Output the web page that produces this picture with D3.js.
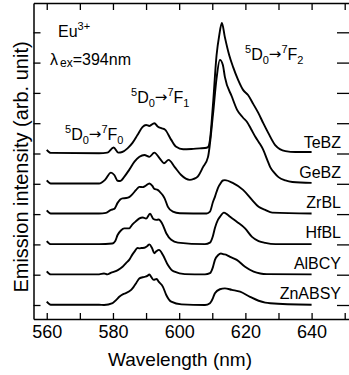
<!DOCTYPE html>
<html>
<head>
<meta charset="utf-8">
<script src="https://cdn.jsdelivr.net/npm/d3@7"></script>
<style>
  body { margin: 0; background: #fff; }
  svg { display: block; font-family: "Liberation Sans", Arial, Helvetica, sans-serif; }
</style>
</head>
<body>
<div id="chart"></div>
<script>
// samples, offsets (in y-tick units) and labels
const sampleNames = ["TeBZ", "GeBZ", "ZrBL", "HfBL", "AlBCY", "ZnABSY"];
const sampleOffsets = [5, 4, 3, 2, 1, 0];

// [wavelength nm, intensity above own baseline]
const teBZ = [[560,0.12],[561.2,0.02],[575.8,0.01],[578.3,0.03],[580.2,0.2],[581.6,0.03],[582.8,0.05],[584.4,0.17],[585.9,0.35],[587.4,0.61],[588.9,0.87],[590,0.94],[591,0.91],[592.5,1.0],[593.6,0.88],[594.8,0.83],[595.8,0.78],[597.6,0.45],[599.1,0.22],[601.2,0.14],[603.7,0.15],[606.2,0.17],[607.8,0.18],[608.7,0.21],[609.3,0.45],[610.2,1.6],[611.3,3.25],[612.1,3.9],[612.9,4.31],[613.8,3.84],[615.1,3.25],[616.3,2.85],[617.8,2.43],[619.3,2.1],[620.8,1.93],[622.4,1.63],[623.9,1.34],[625.4,1.0],[626.9,0.68],[629,0.28],[632.1,0.08],[635.1,0.05],[640,0.05]];
const geBZ = [[560,0.11],[561.2,0.01],[575.8,0.01],[577.6,0.13],[579.4,0.37],[580.4,0.29],[581.4,0.1],[582.2,0.09],[583.4,0.23],[584.9,0.46],[586.5,0.73],[588,0.89],[589.5,0.95],[591,0.89],[592.5,1.03],[594.1,0.84],[595.4,0.68],[596.8,0.79],[598.6,0.56],[600.6,0.29],[602,0.17],[603.2,0.13],[604.4,0.16],[605.6,0.24],[607.2,0.55],[608.7,0.88],[610.2,2.27],[611.3,3.49],[612.3,4.09],[613.2,3.92],[613.8,3.53],[615.9,2.88],[617.5,2.44],[619.3,2.18],[620.5,2.04],[621.7,1.81],[623,1.55],[624.2,1.35],[625.4,1.12],[626.6,0.79],[627.5,0.55],[628.7,0.37],[630,0.22],[632.1,0.11],[634.2,0.06],[640,0.03]];
const zrBL = [[560,0.12],[561.2,0.02],[575.8,0.02],[577.9,0.04],[579.4,0.14],[580.4,0.17],[581.4,0.37],[582.2,0.48],[582.9,0.52],[584,0.53],[584.9,0.56],[585.9,0.66],[587,0.8],[588,0.9],[588.9,0.89],[589.8,0.93],[591,1.01],[591.9,0.93],[592.5,0.83],[593.5,0.8],[594.1,0.74],[595,0.63],[595.6,0.52],[596.6,0.24],[598.1,0.08],[600.2,0.03],[608.3,0.02],[609.3,0.08],[610.2,0.4],[610.8,0.57],[611.7,0.86],[612.3,0.98],[613.2,1.11],[613.8,1.12],[616.3,1.02],[619.3,0.8],[622,0.47],[624,0.24],[626,0.14],[628.1,0.05],[640,0.02]];
const hfBL = [[560,0.11],[561.2,0.01],[575.8,0.01],[579.8,0.03],[580.7,0.11],[581.4,0.31],[582.4,0.46],[583.4,0.53],[584.9,0.53],[585.9,0.66],[587,0.77],[588,0.86],[589,0.89],[590,0.85],[591.2,1.01],[592.2,0.84],[593.1,0.81],[593.8,0.82],[594.8,0.7],[596.1,0.37],[597.6,0.15],[599.6,0.06],[607.8,0.01],[609.3,0.06],[610.2,0.28],[610.8,0.54],[611.7,0.81],[612.3,0.91],[613.5,1.05],[614.4,1.0],[615.4,0.91],[617.4,0.75],[619.9,0.53],[622,0.25],[624,0.11],[626,0.05],[629.1,0.01],[640,0.01]];
const alBCY = [[560,0.11],[561.2,0.01],[575.8,0.01],[577.3,0.04],[578.3,0.01],[579.5,0.07],[580.4,0.1],[581.6,0.16],[582.9,0.26],[584,0.39],[584.9,0.49],[585.9,0.67],[586.5,0.76],[587.4,0.88],[588,0.87],[588.6,0.88],[589.5,0.89],[590.4,0.95],[591,1.0],[591.8,0.88],[592.5,0.71],[593.1,0.77],[593.9,0.82],[595.1,0.65],[596.6,0.32],[597.6,0.17],[598.6,0.1],[601.7,0.02],[607.8,0.01],[609.3,0.05],[610.2,0.25],[610.8,0.49],[611.8,0.65],[612.6,0.7],[613.3,0.68],[614.4,0.65],[615.4,0.59],[617.4,0.49],[619.9,0.26],[622.5,0.1],[624.5,0.04],[626.5,0.02],[640,0.01]];
const znABSY = [[560,0.11],[561.2,0.01],[575.8,0.01],[577.3,0],[579.9,0.06],[581,0.17],[581.9,0.27],[583.1,0.36],[583.9,0.39],[585.5,0.5],[586.2,0.59],[587,0.72],[588,0.88],[589.5,0.93],[590.4,0.96],[591,1.01],[591.6,0.92],[592.3,0.83],[593.2,0.86],[593.8,0.77],[595.1,0.6],[596.1,0.33],[597.6,0.11],[600.7,0.02],[607.8,0],[609.3,0.06],[610.2,0.23],[610.8,0.39],[612.3,0.52],[613.8,0.55],[615.9,0.5],[618.4,0.44],[621.4,0.27],[624,0.14],[626,0.08],[627.5,0.06],[640,0.01]];
const spectra = [teBZ, geBZ, zrBL, hfBL, alBCY, znABSY];

const xTicks = d3.range(560, 651, 10);
const xTickLabels = [560, 580, 600, 620, 640];
const yTicks = d3.range(0, 10);

const width = 349;
const height = 375;

const svg = d3.select("#chart")
    .append("svg")
    .attr("width", width)
    .attr("height", height);

const x = d3.scaleLinear().domain([556, 651.6]).range([33.5, 350]);
const y = d3.scaleLinear().domain([-0.462, 9.967]).range([319, 3]);

// frame + inward ticks
const styleAxis = g => {
    g.select(".domain").attr("stroke-width", 1.5);
    g.selectAll(".tick line").attr("stroke-width", 1.3);
};

svg.append("g")
    .attr("transform", `translate(0,${y.range()[0]})`)
    .call(d3.axisBottom(x).tickValues(xTicks).tickSize(-6).tickSizeOuter(0).tickPadding(6.5)
        .tickFormat(d => xTickLabels.includes(d) ? d : ""))
    .call(styleAxis)
    .call(g => g.selectAll("text").attr("font-size", 18).attr("fill", "#000")
        .attr("font-family", "\"Liberation Sans\", Arial, sans-serif"));

svg.append("g")
    .attr("transform", `translate(0,${y.range()[1]})`)
    .call(d3.axisTop(x).tickValues(xTicks).tickSize(-7).tickSizeOuter(0).tickFormat(""))
    .call(styleAxis);

svg.append("g")
    .attr("transform", `translate(${x.range()[0]},0)`)
    .call(d3.axisLeft(y).tickValues(yTicks).tickSize(-7).tickSizeOuter(0).tickFormat(""))
    .call(styleAxis);

svg.append("g")
    .attr("transform", `translate(${x.range()[1]},0)`)
    .call(d3.axisRight(y).tickValues(yTicks).tickSize(-13).tickSizeOuter(0).tickFormat(""))
    .call(styleAxis);

// spectra
spectra.forEach((data, i) => {
    const line = d3.line()
        .x(d => x(d[0]))
        .y(d => y(d[1] + sampleOffsets[i]))
        .curve(d3.curveMonotoneX);

    svg.append("path")
        .datum(data)
        .attr("fill", "none")
        .attr("stroke", "#000")
        .attr("stroke-width", 1.9)
        .attr("stroke-linejoin", "round")
        .attr("d", line);

    svg.append("text")
        .attr("x", 341)
        .attr("y", y(sampleOffsets[i]) - 6)
        .attr("text-anchor", "end")
        .attr("font-size", 16)
        .text(sampleNames[i]);
});

// transition labels: 5D0 -> 7Fj
const transitionLabel = (px, py, j) => {
    const t = svg.append("text").attr("x", px).attr("y", py).attr("font-size", 16);
    t.append("tspan").attr("font-size", 11).attr("dy", -7).text("5");
    t.append("tspan").attr("dy", 7).text("D");
    t.append("tspan").attr("font-size", 11).attr("dy", 4).text("0");
    t.append("tspan").attr("font-family", "\"DejaVu Sans\", sans-serif").attr("font-size", 15)
        .attr("dy", -5).text("\u2192");
    t.append("tspan").attr("font-size", 11).attr("dy", -6).text("7");
    t.append("tspan").attr("dy", 7).text("F");
    t.append("tspan").attr("font-size", 11).attr("dy", 4).text(j);
};

transitionLabel(65, 139.5, "0");
transitionLabel(131, 103, "1");
transitionLabel(245, 60, "2");

// Eu3+ and excitation
const eu = svg.append("text").attr("x", 58).attr("y", 36.5).attr("font-size", 16);
eu.append("tspan").text("Eu");
eu.append("tspan").attr("font-size", 11).attr("dy", -7).text("3+");

const ex = svg.append("text").attr("x", 50).attr("y", 65).attr("font-size", 16);
ex.append("tspan").text("\u03bb");
ex.append("tspan").attr("font-size", 12).attr("dx", 2).attr("dy", 2).text("ex");
ex.append("tspan").attr("dy", -2).text("=394nm");

// axis titles
svg.append("text")
    .attr("x", 180)
    .attr("y", 366)
    .attr("text-anchor", "middle")
    .attr("font-size", 19)
    .text("Wavelength (nm)");

svg.append("text")
    .attr("transform", "translate(28,167) rotate(-90)")
    .attr("text-anchor", "middle")
    .attr("font-size", 20)
    .text("Emission intensity (arb. unit)");
</script>
</body>
</html>
